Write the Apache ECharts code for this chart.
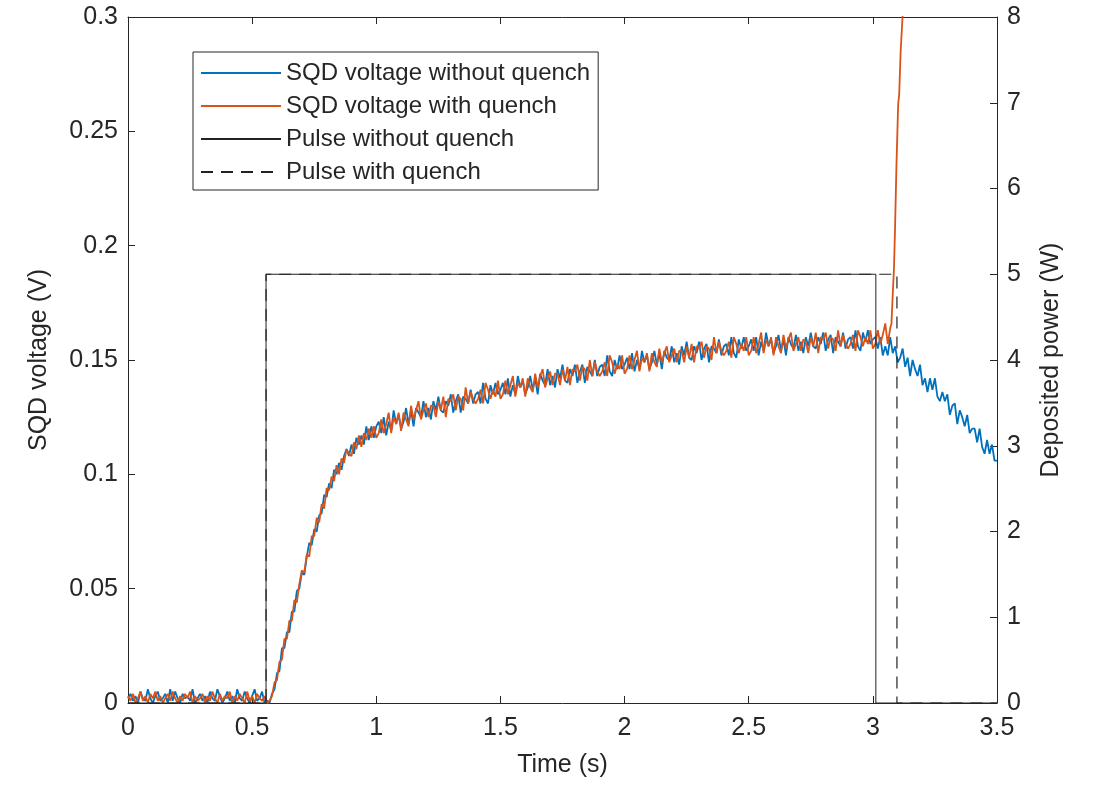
<!DOCTYPE html>
<html>
<head>
<meta charset="utf-8">
<script src="https://cdn.jsdelivr.net/npm/echarts@6/dist/echarts.min.js"></script>
<style>
  html, body { margin: 0; background: #fff; }
  #chart { width: 1094px; height: 787px; }
</style>
</head>
<body>
<div id="chart"></div>
<script>
// sampling of the voltage traces (s)
const sampleStep = 0.01;

// SQD voltage without quench, one value every 10 ms from 0 s to 3.5 s (V)
const voltageNoQuench = [
  0.002,0.004,0.001,0.003,0.000,0.005,0.002,0.001,0.006,0.002,
  0.000,0.003,0.005,0.001,0.002,0.004,0.000,0.006,0.001,0.005,
  0.002,0.000,0.004,0.002,0.003,0.001,0.006,0.000,0.002,0.004,
  0.001,0.003,0.000,0.005,0.002,0.001,0.006,0.003,0.000,0.002,
  0.005,0.001,0.003,0.000,0.006,0.002,0.001,0.005,0.002,0.000,
  0.003,0.006,0.001,0.002,0.005,0.000,0.001,
  0.000,0.004,0.006,0.013,0.014,0.024,0.024,0.031,0.031,0.040,
  0.040,0.049,0.050,0.057,0.056,0.064,0.070,0.069,0.076,0.075,
  0.082,0.083,0.091,0.090,0.096,0.094,0.102,0.100,0.105,0.102,
  0.108,0.111,0.108,0.113,0.109,0.116,0.113,0.117,0.113,0.121,
  0.115,0.121,0.116,0.121,
  0.123,0.118,0.125,0.117,0.123,0.119,0.128,0.122,0.126,0.120,
  0.123,0.129,0.122,0.128,0.121,0.129,0.127,0.125,0.132,0.125,
  0.129,0.124,0.132,0.128,0.134,0.128,0.127,0.132,0.130,0.135,
  0.127,0.132,0.135,0.127,0.134,0.133,0.131,0.137,0.131,0.135,
  0.136,0.131,0.140,0.133,0.131,0.139,0.135,0.140,0.135,0.137,
  0.140,0.135,0.142,0.134,0.139,0.135,0.143,0.138,0.141,0.135,
  0.138,0.143,0.137,0.142,0.135,0.144,0.141,0.139,0.146,0.139,
  0.143,0.138,0.146,0.142,0.148,0.141,0.140,0.146,0.143,0.148,
  0.140,0.145,0.148,0.140,0.147,0.145,0.143,0.150,0.143,0.147,
  0.148,0.143,0.152,0.145,0.143,0.150,0.146,0.152,0.146,0.148,
  0.151,0.146,0.153,0.145,0.150,0.146,0.154,0.149,0.152,0.146,
  0.149,0.154,0.148,0.153,0.146,0.154,0.151,0.150,0.156,0.149,
  0.153,0.148,0.156,0.152,0.158,0.151,0.150,0.156,0.153,0.158,
  0.150,0.155,0.157,0.149,0.156,0.155,0.153,0.159,0.152,0.156,
  0.157,0.152,0.160,0.153,0.151,0.159,0.155,0.160,0.154,0.156,
  0.159,0.154,0.160,0.152,0.158,0.154,0.162,0.156,0.159,0.153,
  0.156,0.161,0.154,0.159,0.152,0.160,0.157,0.155,0.161,0.154,
  0.158,0.153,0.160,0.156,0.162,0.156,0.155,0.160,0.157,0.162,
  0.154,0.159,0.161,0.153,0.160,0.158,0.156,0.162,0.155,0.159,
  0.160,0.155,0.163,0.156,0.154,0.162,0.158,0.163,0.157,0.159,
  0.160,0.155,0.160,0.152,0.156,0.152,0.160,0.153,0.156,0.149,
  0.151,0.155,0.147,0.151,0.143,0.150,0.146,0.143,0.148,0.139,
  0.142,0.136,0.142,0.137,0.142,0.134,0.132,0.136,0.132,0.135,
  0.126,0.130,0.131,0.122,0.128,0.125,0.121,0.126,0.118,0.120,
  0.120,0.114,0.120,0.112,0.109,0.115,0.109,0.113,0.106,0.106
];

// SQD voltage with quench, every 10 ms from 0 s to 3.06 s (V)
const voltageQuench = [
  0.003,0.001,0.004,0.000,0.002,0.005,0.001,0.003,0.000,0.004,
  0.002,0.005,0.001,0.003,0.000,0.002,0.004,0.001,0.005,0.002,
  0.000,0.003,0.001,0.004,0.002,0.005,0.000,0.003,0.001,0.002,
  0.004,0.000,0.003,0.001,0.005,0.002,0.000,0.004,0.001,0.003,
  0.002,0.005,0.000,0.003,0.001,0.004,0.002,0.000,0.005,0.001,
  0.003,0.000,0.004,0.002,0.001,0.003,0.000,
  0.001,0.003,0.009,0.010,0.018,0.019,0.028,0.028,0.036,0.036,
  0.045,0.044,0.052,0.058,0.057,0.065,0.064,0.073,0.073,0.081,
  0.079,0.087,0.085,0.094,0.093,0.099,0.097,0.104,0.100,0.107,
  0.105,0.111,0.109,0.108,0.114,0.111,0.117,0.112,0.118,0.115,
  0.120,0.116,0.121,0.116,
  0.118,0.124,0.118,0.122,0.127,0.118,0.125,0.122,0.127,0.119,
  0.127,0.124,0.121,0.130,0.124,0.128,0.132,0.124,0.128,0.131,
  0.125,0.130,0.130,0.125,0.132,0.128,0.134,0.125,0.133,0.132,
  0.135,0.128,0.134,0.133,0.128,0.138,0.131,0.136,0.133,0.131,
  0.133,0.137,0.131,0.140,0.137,0.133,0.137,0.134,0.141,0.133,
  0.135,0.141,0.135,0.139,0.143,0.134,0.140,0.138,0.142,0.134,
  0.142,0.138,0.136,0.144,0.138,0.143,0.146,0.138,0.142,0.145,
  0.139,0.144,0.144,0.139,0.146,0.141,0.147,0.139,0.146,0.145,
  0.148,0.141,0.147,0.146,0.141,0.150,0.143,0.149,0.145,0.143,
  0.145,0.149,0.143,0.152,0.149,0.144,0.148,0.146,0.152,0.144,
  0.146,0.152,0.146,0.150,0.154,0.145,0.151,0.149,0.153,0.145,
  0.153,0.149,0.147,0.155,0.149,0.153,0.156,0.149,0.152,0.155,
  0.149,0.154,0.154,0.149,0.156,0.151,0.157,0.149,0.156,0.155,
  0.158,0.151,0.156,0.155,0.150,0.160,0.153,0.158,0.154,0.152,
  0.154,0.158,0.151,0.160,0.157,0.153,0.157,0.154,0.160,0.152,
  0.154,0.160,0.153,0.157,0.162,0.153,0.159,0.156,0.160,0.152,
  0.160,0.156,0.153,0.161,0.155,0.159,0.162,0.154,0.157,0.160,
  0.154,0.159,0.158,0.153,0.160,0.156,0.162,0.153,0.160,0.159,
  0.162,0.155,0.160,0.159,0.154,0.163,0.156,0.161,0.157,0.155,
  0.157,0.161,0.154,0.163,0.160,0.156,0.160,0.157,0.163,0.155,
  0.157,0.163,0.157,0.161,0.166,0.157
];

// quench run-away after 3.06 s
const quenchTailTime    = [3.07, 3.075, 3.079, 3.085, 3.089, 3.095, 3.102, 3.106, 3.112, 3.12, 3.125];
const quenchTailVoltage = [0.164, 0.166, 0.176, 0.190, 0.206, 0.235, 0.262, 0.266, 0.285, 0.301, 0.315];

// heater pulses (right axis, W)
const pulseNoQuenchTime  = [0, 0.556, 0.556, 3.012, 3.012, 3.5];
const pulseNoQuenchPower = [0, 0, 5, 5, 0, 0];
const pulseQuenchTime    = [0, 0.556, 0.556, 3.097, 3.097, 3.5];
const pulseQuenchPower   = [0, 0, 5, 5, 0, 0];

const xTicks = { min: 0, max: 3.5, interval: 0.5 };

const ink = '#262626';
const fontFamily = 'Liberation Sans, Arial, sans-serif';

const blueData = voltageNoQuench.map((v, i) => [i * sampleStep, v]);
const orangeData = voltageQuench.map((v, i) => [i * sampleStep, v])
  .concat(quenchTailTime.map((t, i) => [t, quenchTailVoltage[i]]));
const pulseNoQuenchData = pulseNoQuenchTime.map((t, i) => [t, pulseNoQuenchPower[i]]);
const pulseQuenchData = pulseQuenchTime.map((t, i) => [t, pulseQuenchPower[i]]);

const chart = echarts.init(document.getElementById('chart'));

const axisCommon = {
  axisLine: { show: true, onZero: false, lineStyle: { color: ink, width: 1 } },
  axisTick: { show: true, inside: true, length: 7, lineStyle: { color: ink } },
  splitLine: { show: false },
  nameTextStyle: { fontSize: 25, color: ink, fontFamily: fontFamily },
};

chart.setOption({
  animation: false,
  backgroundColor: '#fff',
  textStyle: { fontFamily: fontFamily },
  grid: { left: 128, right: 97, top: 17, bottom: 84, containLabel: false },
  legend: {
    orient: 'vertical',
    left: 193,
    top: 52,
    padding: [9, 8, 6, 7],
    itemWidth: 80,
    itemHeight: 14,
    itemGap: 9,
    borderColor: ink,
    borderWidth: 1,
    backgroundColor: '#fff',
    // line series legends draw a marker; keep only the line sample
    itemStyle: { color: 'rgba(0,0,0,0)', borderColor: 'rgba(0,0,0,0)', borderWidth: 0, opacity: 0 },
    textStyle: { fontSize: 24, color: ink, lineHeight: 23, fontFamily: fontFamily },
    data: ['SQD voltage without quench', 'SQD voltage with quench', 'Pulse without quench', 'Pulse with quench'],
  },
  xAxis: [
    Object.assign({}, axisCommon, {
      type: 'value',
      position: 'bottom',
      min: xTicks.min, max: xTicks.max, interval: xTicks.interval,
      name: 'Time (s)',
      nameLocation: 'middle',
      nameGap: 50,
      axisLabel: { fontSize: 25, color: ink, margin: 13 },
    }),
    Object.assign({}, axisCommon, {
      type: 'value',
      position: 'top',
      min: xTicks.min, max: xTicks.max, interval: xTicks.interval,
      axisLabel: { show: false },
    }),
  ],
  yAxis: [
    Object.assign({}, axisCommon, {
      type: 'value',
      position: 'left',
      min: 0, max: 0.3, interval: 0.05,
      name: 'SQD voltage (V)',
      nameLocation: 'middle',
      nameRotate: 90,
      nameGap: 76,
      axisLabel: { fontSize: 25, color: ink, margin: 10 },
    }),
    Object.assign({}, axisCommon, {
      type: 'value',
      position: 'right',
      min: 0, max: 8, interval: 1,
      name: 'Deposited power (W)',
      nameLocation: 'middle',
      nameRotate: 90,
      nameGap: 42,
      axisLabel: { fontSize: 25, color: ink, margin: 10 },
    }),
  ],
  series: [
    {
      name: 'SQD voltage without quench',
      type: 'line',
      yAxisIndex: 0,
      data: blueData,
      symbol: 'none',
      color: '#0072BD',
      lineStyle: { color: '#0072BD', width: 1.8 },
    },
    {
      name: 'SQD voltage with quench',
      type: 'line',
      yAxisIndex: 0,
      data: orangeData,
      symbol: 'none',
      color: '#D95319',
      lineStyle: { color: '#D95319', width: 1.8 },
    },
    {
      name: 'Pulse without quench',
      type: 'line',
      yAxisIndex: 1,
      data: pulseNoQuenchData,
      symbol: 'none',
      color: '#000',
      lineStyle: { color: '#222', width: 1 },
    },
    {
      name: 'Pulse with quench',
      type: 'line',
      yAxisIndex: 1,
      data: pulseQuenchData,
      symbol: 'none',
      color: '#000',
      lineStyle: { color: '#222', width: 1.2, type: [12, 8] },
    },
  ],
});
</script>
</body>
</html>
